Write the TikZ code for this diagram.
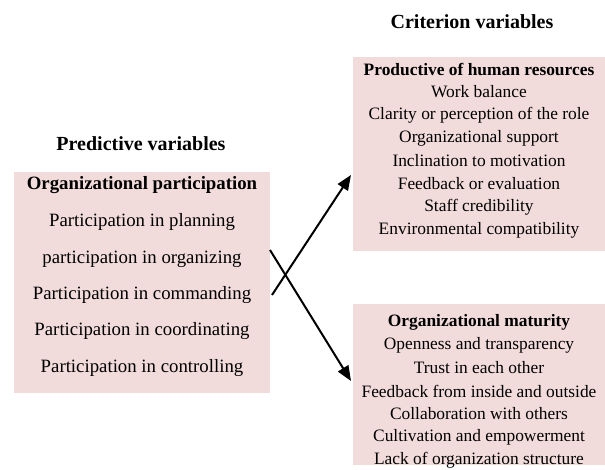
\documentclass[tikz,border=0pt]{standalone}
\usepackage{fontspec}
\setmainfont{Liberation Serif}
\usetikzlibrary{arrows.meta}
\definecolor{boxpink}{HTML}{F2DCDB}
\begin{document}
\begin{tikzpicture}[x=1pt,y=-1pt,
  pbox/.style={fill=boxpink,draw=none,inner sep=0pt},
  ltxt/.style={font=\fontsize{18.8}{22}\selectfont,inner sep=0pt,anchor=center},
  rtxt/.style={font=\fontsize{17.4}{20}\selectfont,inner sep=0pt,anchor=center},
  hdr/.style={font=\fontsize{20}{24}\selectfont\bfseries,inner sep=0pt,anchor=center},
  conn/.style={line width=2pt,-{Triangle[length=15pt,width=12pt]}}]
\useasboundingbox (0,0) rectangle (605,469);
% boxes
\node[pbox,minimum width=256pt,minimum height=221pt,anchor=north west] (left) at (14,172) {};
\node[pbox,minimum width=252pt,minimum height=194pt,anchor=north west] (top) at (353,57) {};
\node[pbox,minimum width=252pt,minimum height=161pt,anchor=north west] (bot) at (353,304) {};
% headers
\node[hdr] (hl) at (141,144) {Predictive variables};
\node[hdr] (hr) at (472,22) {Criterion variables};
% left text
\node[ltxt,font=\fontsize{18.8}{22}\selectfont\bfseries] (l0) at (142,185) {Organizational participation};
\node[ltxt] (l1) at (142,222) {Participation in planning};
\node[ltxt] (l2) at (142,259) {participation in organizing};
\node[ltxt] (l3) at (142,295) {Participation in commanding};
\node[ltxt] (l4) at (142,331) {Participation in coordinating};
\node[ltxt] (l5) at (142,368) {Participation in controlling};
% top right text
\node[rtxt,font=\fontsize{17.4}{20}\selectfont\bfseries] (t0) at (479,69) {Productive of human resources};
\node[rtxt] (t1) at (479,92) {Work balance};
\node[rtxt] (t2) at (479,115) {Clarity or perception of the role};
\node[rtxt] (t3) at (479,138) {Organizational support};
\node[rtxt] (t4) at (479,161) {Inclination to motivation};
\node[rtxt] (t5) at (479,184) {Feedback or evaluation};
\node[rtxt] (t6) at (479,207) {Staff credibility};
\node[rtxt] (t7) at (479,230) {Environmental compatibility};
% bottom right text
\node[rtxt,font=\fontsize{17.4}{20}\selectfont\bfseries] (b0) at (479,322) {Organizational maturity};
\node[rtxt] (b1) at (479,345) {Openness and transparency};
\node[rtxt] (b2) at (479,368) {Trust in each other};
\node[rtxt] (b3) at (479,391) {Feedback from inside and outside};
\node[rtxt] (b4) at (479,414) {Collaboration with others};
\node[rtxt] (b5) at (479,437) {Cultivation and empowerment};
\node[rtxt] (b6) at (479,460) {Lack of organization structure};
% connectors
\coordinate (s1) at (272,295);
\coordinate (e1) at (351,175);
\coordinate (s2) at (270,250);
\coordinate (e2) at (351,381);
\draw[conn] (s1) -- (e1);
\draw[conn] (s2) -- (e2);
\end{tikzpicture}
\end{document}
